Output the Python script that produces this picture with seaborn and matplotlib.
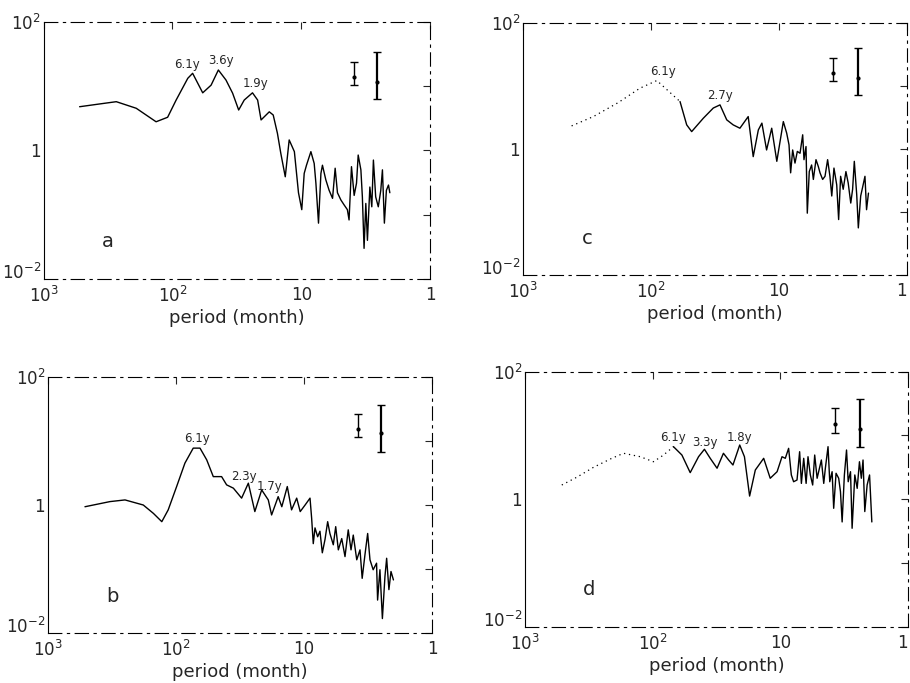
import matplotlib
matplotlib.use("Agg")
import matplotlib.pyplot as plt
import seaborn as sns
import pandas as pd

# ---- panel a ----
period_a = [526, 368, 273, 191, 134, 109, 93.6, 76, 69.7, 58.2, 50.1, 44, 38.4, 34.1, 30.6,
            27.7, 23.9, 21.8, 20.5, 17.7, 16.5, 15.3, 14.4, 13.3, 12.4, 11.3, 10.5, 9.9,
            9.48, 9.10, 8.41, 7.93, 7.69, 7.34, 7.03, 6.84, 6.44, 6.07, 5.71, 5.45, 5.23, 4.92,
            4.64, 4.38, 4.25, 4.07, 3.88, 3.72, 3.61, 3.44, 3.35, 3.25, 3.15, 3.06, 2.93, 2.83,
            2.75, 2.64, 2.52, 2.41, 2.34, 2.26, 2.18, 2.10, 2.05]
power_a = [4.8, 5.3, 5.75, 4.54, 2.8, 3.29, 6.1, 13.3, 15.9, 7.9, 10.4, 17.9, 12.5, 7.8, 4.27,
           6.1, 7.9, 6.1, 2.99, 4.0, 3.57, 1.85, 0.90, 0.39, 1.46, 0.96, 0.22, 0.12,
           0.44, 0.59, 0.96, 0.63, 0.31, 0.074, 0.44, 0.59, 0.35, 0.24, 0.18, 0.53, 0.22, 0.17,
           0.142, 0.12, 0.083, 0.56, 0.20, 0.31, 0.85, 0.50, 0.19, 0.030, 0.15, 0.040, 0.27, 0.133,
           0.71, 0.19, 0.133, 0.24, 0.50, 0.074, 0.24, 0.29, 0.22]

# ---- panel b ----
period_b = [514, 328, 250, 180, 150, 129, 115, 98.8, 85.1, 73.3, 64.9, 57.5, 51.1, 44, 40.2,
            35.6, 30.7, 27.2, 24.2, 21.4, 19.0, 17.9, 15.9, 14.9, 13.5, 12.5, 11.4, 10.7, 9.8, 8.97,
            8.71, 8.46, 8.2, 7.82, 7.50, 7.19, 6.85, 6.53, 6.27, 5.9, 5.65, 5.39, 5.07, 4.78, 4.51,
            4.29, 4.12, 3.87, 3.65, 3.51, 3.34, 3.18, 3.05, 2.88, 2.71, 2.66, 2.55, 2.44, 2.33, 2.26,
            2.17, 2.09, 2.0]
power_b = [0.94, 1.13, 1.2, 1.0, 0.74, 0.55, 0.84, 1.94, 4.5, 7.7, 7.7, 5.05, 2.77, 2.77, 2.06,
           1.83, 1.28, 2.19, 0.79, 1.72, 1.2, 0.70, 1.35, 0.94, 1.94, 0.84, 1.28, 0.79, 1.0, 1.28,
           0.62, 0.25, 0.44, 0.32, 0.39, 0.18, 0.29, 0.55, 0.36, 0.24, 0.46, 0.20, 0.30, 0.157, 0.41,
           0.20, 0.34, 0.14, 0.20, 0.072, 0.167, 0.36, 0.14, 0.098, 0.124, 0.033, 0.098, 0.017, 0.077, 0.148,
           0.048, 0.092, 0.068]

# ---- panel c ----
period_c = [417, 282, 180, 122, 90, 59.3, 52.6, 48.1, 39, 32.6, 28.9, 25.6, 22.8, 20.2, 17.4,
            15.9, 14.5, 13.6, 12.5, 11.4, 10.4,
            9.25, 8.71, 8.35, 8.11, 7.82, 7.50, 7.19, 6.85, 6.53, 6.38, 6.15, 6.01, 5.80, 5.56, 5.39,
            5.14, 4.93, 4.78, 4.56, 4.37, 4.17, 4.0, 3.87, 3.72, 3.54, 3.42, 3.30, 3.15, 3.0, 2.88,
            2.75, 2.66, 2.58, 2.47, 2.40, 2.30, 2.22, 2.13, 2.07, 2.0]
power_c = [2.34, 3.29, 5.5, 9.3, 12.3, 5.7, 2.43, 1.90, 3.1, 4.5, 5.05, 2.92, 2.43, 2.15, 3.29,
           0.76, 2.02, 2.59, 0.97, 2.15, 0.64,
           2.74, 1.80, 1.17, 0.42, 0.97, 0.60, 0.92, 0.86, 1.69, 0.68, 1.10, 0.096, 0.44, 0.56, 0.33,
           0.68, 0.53, 0.42, 0.33, 0.37, 0.68, 0.37, 0.18, 0.50, 0.27, 0.076, 0.37, 0.23, 0.44, 0.29,
           0.139, 0.23, 0.64, 0.188, 0.056, 0.18, 0.25, 0.37, 0.109, 0.20]

# ---- panel d ----
period_d = [515, 393, 291, 209, 169, 125, 98.6, 82.2, 68.7, 59, 50.8, 43.7, 39.3, 35.4, 31.3,
            27.9, 25.4, 23.5, 20.8, 19.1, 17.4, 15.7, 13.5, 12.0,
            10.6, 9.7, 9.14, 8.61, 8.20, 7.87, 7.40, 7.06, 6.84, 6.56, 6.28, 6.07, 5.82, 5.58, 5.38,
            5.15, 4.94, 4.77, 4.57, 4.44, 4.23, 4.10, 3.93, 3.82, 3.66, 3.49, 3.38, 3.28, 3.15, 3.03,
            2.94, 2.82, 2.74, 2.61, 2.50, 2.40, 2.32, 2.25, 2.18, 2.09, 2.0, 1.92]
power_d = [1.67, 2.21, 3.16, 4.38, 5.25, 4.64, 3.87, 4.93, 6.67, 4.93, 2.61, 4.64, 6.07, 4.38, 3.06,
           5.25, 4.12, 3.44, 7.08, 4.64, 1.12, 2.87, 4.38, 2.13,
           2.70, 4.64, 4.38, 6.28, 2.40, 1.88, 2.0, 5.56, 1.77, 4.38, 1.77, 4.64, 2.40, 1.67, 4.93,
           2.13, 3.05, 4.12, 1.77, 3.05, 6.67, 1.88, 2.70, 0.72, 2.55, 2.13, 1.31, 0.44, 2.40, 5.91,
           1.88, 2.70, 0.35, 2.40, 1.48, 3.87, 2.13, 4.12, 0.64, 1.67, 2.40, 0.44]

# peak labels: text, period, power, offset in points
peaks_a = [("6.1y", 69.7, 15.9, (-4, 2)), ("3.6y", 44, 17.9, (2, 2)), ("1.9y", 23.9, 7.9, (2, 2))]
peaks_b = [("6.1y", 69, 7.7, (0, 2)), ("2.3y", 27.2, 2.19, (-3, 0)), ("1.7y", 21.4, 1.72, (6, -2))]
peaks_c = [("6.1y", 80, 12.3, (0, 2)), ("2.7y", 28.9, 5.05, (0, 2))]
peaks_d = [("6.1y", 68.7, 6.67, (0, 2)), ("3.3y", 39.3, 6.07, (0, 0)), ("1.8y", 20.8, 7.08, (0, 1))]

# confidence bars: period, centre, low, high
bars_a = [(3.88, 13.9, 10.4, 23.8), (2.58, 11.6, 6.3, 34.1)]
bars_b = [(3.77, 15.2, 11.4, 26.2), (2.52, 13.1, 6.8, 36.2)]
bars_c = [(3.77, 16.1, 12.3, 27.8), (2.43, 13.7, 7.3, 40.1)]
bars_d = [(3.70, 15.0, 11.0, 26.7), (2.36, 12.5, 6.7, 36.9)]

sns.set_style("white")
plt.rcParams['font.family'] = ['DejaVu Sans']

fig = plt.figure(figsize=(9.1, 6.83), dpi=100)

panels = [
    ("a", period_a, power_a, 0, peaks_a, bars_a, [0.048, 0.5915, 0.4245, 0.3763]),
    ("c", period_c, power_c, 5, peaks_c, bars_c, [0.5747, 0.5974, 0.422, 0.3685]),
    ("b", period_b, power_b, 0, peaks_b, bars_b, [0.0527, 0.0727, 0.422, 0.3758]),
    ("d", period_d, power_d, 8, peaks_d, bars_d, [0.5769, 0.0824, 0.4209, 0.3734]),
]

for letter, per, pw, n_dot, peaks, bars, pos in panels:
    ax = fig.add_axes(pos)
    df = pd.DataFrame({"period": per, "power": pw})
    # long-period part of c and d is printed as a dotted trace
    if n_dot > 0:
        sns.lineplot(data=df.iloc[:n_dot + 1], x="period", y="power", ax=ax, sort=False,
                     estimator=None, color="k", lw=0.9, linestyle=(0, (1, 3)))
        sns.lineplot(data=df.iloc[n_dot:], x="period", y="power", ax=ax, sort=False,
                     estimator=None, color="k", lw=1.0)
    else:
        sns.lineplot(data=df, x="period", y="power", ax=ax, sort=False,
                     estimator=None, color="k", lw=1.0)

    for i, (p, c, lo, hi) in enumerate(bars):
        ax.errorbar([p], [c], yerr=[[c - lo], [hi - c]], fmt="o", ms=2, color="k",
                    capsize=3, lw=1.0 + 0.6 * i, capthick=1.0)

    for txt, p, s, off in peaks:
        ax.annotate(txt, (p, s), xytext=off, textcoords="offset points",
                    ha="center", va="bottom", fontsize=8.5)

    ax.set_xscale("log")
    ax.set_yscale("log")
    ax.set_xlim(1000, 1)
    ax.set_ylim(1e-2, 1e2)
    ax.set_xticks([1000, 100, 10, 1])
    ax.set_xticklabels(["$10^3$", "$10^2$", "10", "1"])
    ax.set_yticks([1e-2, 1e-1, 1, 10, 1e2])
    ax.set_yticklabels(["$10^{-2}$", "", "1", "", "$10^2$"])
    ax.minorticks_off()
    ax.tick_params(direction="in", length=5, width=0.8, top=True, right=True,
                   labelsize=12)
    ax.tick_params(axis="x", pad=5)
    ax.tick_params(axis="y", pad=2)
    # lowest y label sits on the axis line so it clears the 10^3 label below
    ax.get_yticklabels()[0].set_verticalalignment("baseline")
    if letter in ("c", "d"):
        ax.get_xticklabels()[-1].set_horizontalalignment("right")
    ax.set_xlabel("period (month)", fontsize=13, labelpad=2)
    ax.set_ylabel("")
    for side, sp in ax.spines.items():
        sp.set_linewidth(0.8)
        sp.set_color("k")
        if side != "left":
            sp.set_linestyle((0, (12, 5, 2, 5)))
    ax.text(0.167, 0.145, letter, transform=ax.transAxes, fontsize=14,
            ha="center", va="center")

fig.savefig("out.png", dpi=100)
